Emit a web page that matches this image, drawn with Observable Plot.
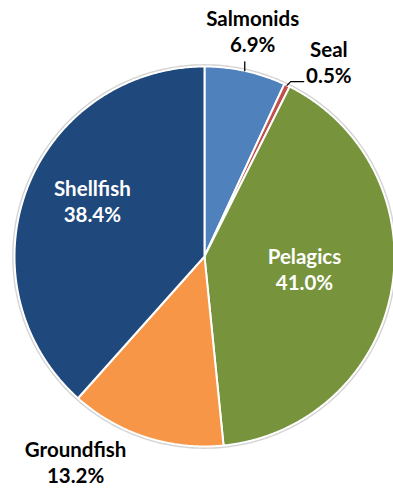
<!DOCTYPE html>
<html><head><meta charset="utf-8">
<script src="https://cdn.jsdelivr.net/npm/d3@7"></script>
<script src="https://cdn.jsdelivr.net/npm/@observablehq/plot@0.6"></script>
<style>html,body{margin:0;padding:0;background:#fff}</style>
</head><body><div id="chart"></div>
<script>
// ---- data ----
const categories = ["Salmonids", "Seal", "Pelagics", "Groundfish", "Shellfish"];
const shares = [6.9, 0.5, 41.0, 13.2, 38.4];
const valueLabels = ["6.9%", "0.5%", "41.0%", "13.2%", "38.4%"];
const colors = ["#4f81bd", "#c0504d", "#77933c", "#f79646", "#1f497d"];
const labelColors = ["#000", "#000", "#fff", "#000", "#fff"];

// ---- layout ----
const W = 393, H = 489, R = 190, CX = 204, CY = 256;
// label placement: radius (in pie radii) and angle nudge (deg) relative to slice mid-angle
const labelLayout = {
  Salmonids: {r: 1.208, da: -0.3},
  Seal: {r: 1.21, da: 7},
  Pelagics: {r: 0.531, da: -2.7},
  Groundfish: {r: 1.284, da: 13.9},
  Shellfish: {r: 0.656, da: 5}
};

const arcs = d3.pie().sort(null).value(d => d)(shares);
const slices = arcs.map((a, i) => {
  const n = Math.max(4, Math.ceil((a.endAngle - a.startAngle) / (2 * Math.PI) * 720));
  const pts = [{x: 0, y: 0}];
  for (let j = 0; j <= n; j++) {
    const t = a.startAngle + (a.endAngle - a.startAngle) * j / n;
    pts.push({x: Math.sin(t), y: Math.cos(t)});
  }
  return {name: categories[i], color: colors[i], pts};
});
const ring = d3.range(0, 361).map(d => ({x: 1.006 * Math.sin(d * Math.PI / 180), y: 1.006 * Math.cos(d * Math.PI / 180)}));

const labels = arcs.map((a, i) => {
  const L = labelLayout[categories[i]];
  const t = (a.startAngle + a.endAngle) / 2 + L.da * Math.PI / 180;
  return {name: categories[i], value: valueLabels[i], color: labelColors[i],
          x: L.r * Math.sin(t), y: L.r * Math.cos(t)};
});

// leader lines
const salm = arcs[0], seal = arcs[1];
const salmMid = (salm.startAngle + salm.endAngle) / 2;
const sx = Math.sin(salmMid) * 0.985;
const leaderSalm = [{x: sx, y: Math.sqrt(1 - sx * sx)}, {x: sx, y: Math.sqrt(1 - sx * sx) + 9 / R}];
const sealMid = (seal.startAngle + seal.endAngle) / 2;
const elbow = {x: 1.026 * Math.sin(sealMid + 0.5 * Math.PI / 180), y: 1.026 * Math.cos(sealMid + 0.5 * Math.PI / 180)};
const leaderSeal = [{x: Math.sin(sealMid), y: Math.cos(sealMid)}, elbow, {x: elbow.x + 13 / R, y: elbow.y}];

const font = "Lato, 'Open Sans', sans-serif";
const marks = [
  Plot.line(ring, {x: "x", y: "y", stroke: "#d4d4d4", strokeWidth: 2.5, curve: "linear-closed"}),
  ...slices.map(s => Plot.line(s.pts, {x: "x", y: "y", fill: s.color, stroke: "#fff", strokeWidth: 2, curve: "linear-closed", strokeLinejoin: "round"})),
  Plot.line(leaderSalm, {x: "x", y: "y", stroke: "#000", strokeWidth: 1.3}),
  Plot.line(leaderSeal, {x: "x", y: "y", stroke: "#000", strokeWidth: 1.3}),
  Plot.text(labels, {x: "x", y: "y", text: "name", fill: "color", dy: -13, fontSize: 20.5, fontWeight: "bold", fontFamily: font}),
  Plot.text(labels, {x: "x", y: "y", text: "value", fill: "color", dy: 13, fontSize: 20.5, fontWeight: "bold", fontFamily: font})
];

const chart = Plot.plot({
  width: W, height: H,
  margin: 0,
  x: {domain: [-CX / R, (W - CX) / R], axis: null},
  y: {domain: [-(H - CY) / R, CY / R], axis: null},
  style: {background: "#fff", overflow: "visible"},
  marks
});
document.getElementById("chart").appendChild(chart);
</script>
</body></html>
